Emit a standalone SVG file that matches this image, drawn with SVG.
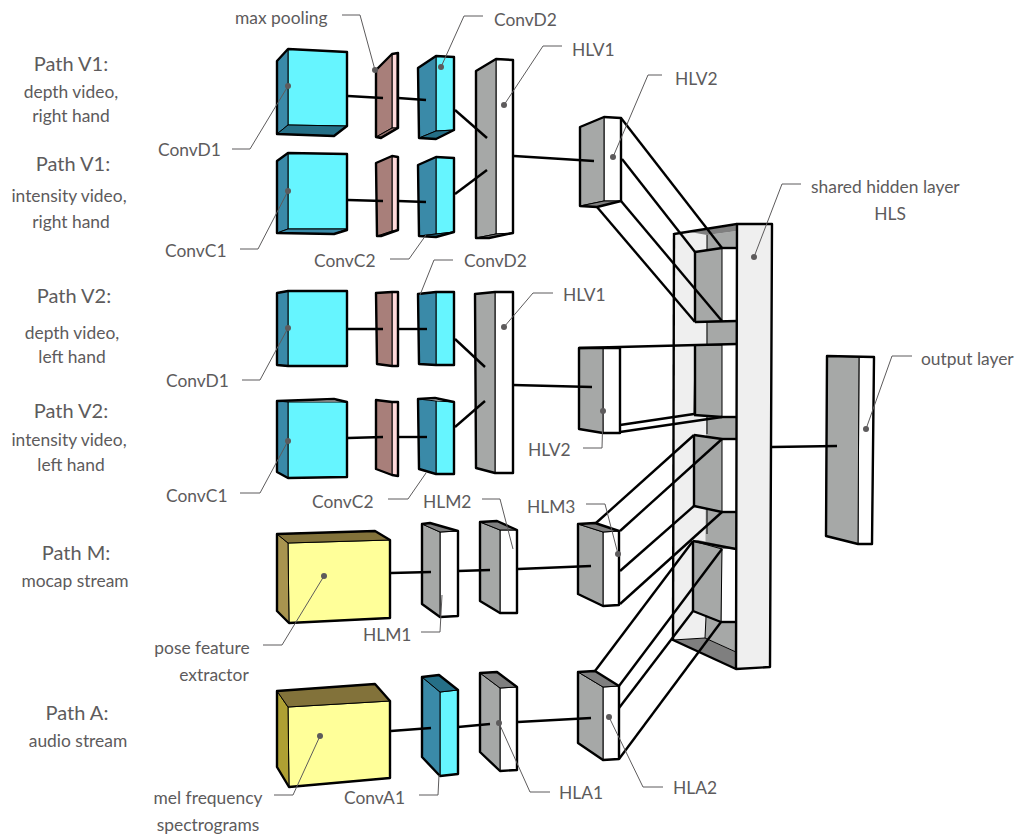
<svg xmlns="http://www.w3.org/2000/svg" width="1015" height="837" viewBox="0 0 1015 837">
<style>
text{font-family:"Lato","Noto Sans","Liberation Sans",sans-serif;font-size:17.4px;fill:#5d5b5c}
.h{font-size:20px}
.m{text-anchor:middle}
polygon{stroke:#000;stroke-width:1;stroke-linejoin:round}
.o{fill:none;stroke:#000;stroke-width:2.4;stroke-linejoin:round}
.c{fill:#66f5ff}.t{fill:#3a8aa8}.td{fill:#256f87}
.p{fill:#ffd9d9}.b{fill:#a87f7a}.bd{fill:#8a6a66}
.g{fill:#a6a8a7}.gd{fill:#7f7f7f}.w{fill:#fff}.l{fill:#efefef}
.y{fill:#ffff99}.k{fill:#82723a}
.n{stroke:none}
#connectors line,.cn line{stroke:#000;stroke-width:2.4;stroke-linecap:butt}
.cn line.f{stroke-width:1}
#leaders polyline{fill:none;stroke:#5d5b5c;stroke-width:1}
#leaders circle{fill:#5d5b5c;stroke:none}
</style>

<g id="v1-convd1"><polygon class="c" points="288,49 347,52 347,126 288,125"/><polygon class="t" points="277,61 288,49 288,125 277,134"/><polygon class="td" points="277,134 288,125 347,126 334,136"/><polygon class="o" points="277,61 288,49 347,52 347,126 334,136 277,134"/></g>
<g id="v1-pool1"><polygon class="p" points="392,54 397,53 397,128 392,128"/><polygon class="b" points="376,70 392,54 392,128 376,137"/><polygon class="bd" points="376,137 392,128 397,128 381,137"/><polygon class="o" points="376,70 392,54 398,53 398,128 381,138 376,137"/></g>
<g id="v1-convd2"><polygon class="c" points="436,56 454,57 454,130 436,131"/><polygon class="t" points="418,68 436,56 436,131 419,138"/><polygon class="td" points="419,138 436,131 454,130 436,139"/><polygon class="o" points="418,68 436,56 454,57 454,130 436,139 419,138"/></g>
<g id="v1-convc1"><polygon class="c" points="288,153 347,154 347,229 288,229"/><polygon class="t" points="277,161 288,153 288,229 277,233"/><polygon class="t" points="277,233 288,229 347,229 334,234"/><polygon class="o" points="277,161 288,153 347,154 347,230 334,234 277,233"/></g>
<g id="v1-pool2"><polygon class="p" points="392,156 398,157 398,230 392,231"/><polygon class="b" points="376,163 392,156 392,231 377,236"/><polygon class="o" points="376,163 392,156 398,157 398,230 381,236 377,236"/></g>
<g id="v1-convc2"><polygon class="c" points="436,157 454,158 454,232 436,234"/><polygon class="t" points="418,165 436,157 436,234 419,236"/><polygon class="td" points="419,236 436,234 454,232 436,237"/><polygon class="o" points="418,165 436,157 454,158 454,232 436,237 419,236"/></g>
<g id="v1-hlv1"><polygon class="w" points="496,59 513,60 513,233 496,234"/><polygon class="g" points="476,71 496,59 496,234 476,238"/><polygon class="gd" points="476,238 496,234 513,233 489,238"/><polygon class="o" points="476,71 496,59 513,60 513,233 489,238 476,238"/></g>

<g id="v2-convd1"><polygon class="c" points="288,291 347,291 347,366 288,366"/><polygon class="t" points="277,293 288,291 288,366 277,365"/><polygon class="o" points="277,293 288,291 347,291 347,366 288,366 277,365"/></g>
<g id="v2-pool1"><polygon class="p" points="392,292 398,292 398,366 392,366"/><polygon class="b" points="376,293 392,292 392,366 377,364"/><polygon class="o" points="376,293 392,292 398,292 398,366 392,366 377,364"/></g>
<g id="v2-convd2"><polygon class="c" points="436,292 454,292 454,365 436,365"/><polygon class="t" points="418,294 436,292 436,365 419,364"/><polygon class="o" points="418,294 436,292 454,292 454,365 436,365 419,364"/></g>
<g id="v2-convc1"><polygon class="c" points="288,402 347,402 347,477 288,478"/><polygon class="t" points="277,401 288,402 288,478 277,472"/><polygon class="o" points="277,401 334,399 347,402 347,477 288,478 277,472"/></g>
<g id="v2-pool2"><polygon class="p" points="392,402 398,402 398,476 392,475"/><polygon class="b" points="376,400 392,402 392,475 376,469"/><polygon class="o" points="376,400 392,402 398,402 398,476 392,475 376,469"/></g>
<g id="v2-convc2"><polygon class="c" points="436,401 454,402 454,474 436,474"/><polygon class="t" points="418,399 436,401 436,474 419,469"/><polygon class="o" points="418,399 435,398 454,402 454,474 436,474 419,469"/></g>
<g id="v2-hlv1"><polygon class="w" points="495,292 513,292 513,473 495,473"/><polygon class="g" points="475,294 495,292 495,473 476,468"/><polygon class="o" points="475,294 495,292 513,292 513,473 495,473 476,468"/></g>

<g id="m-pose"><polygon class="y" points="288,543 390,540 390,618 289,623"/><polygon fill="#a8944f" points="277,534 288,543 289,623 277,611"/><polygon class="k" points="277,534 375,531 390,540 288,543"/><polygon class="o" points="277,534 375,531 390,540 390,618 289,623 277,611"/></g>
<g id="m-hlm1"><polygon class="w" points="440,532 458,531 458,616 440,617"/><polygon class="g" points="422,524 440,532 440,617 422,604"/><polygon class="gd" points="422,524 430,523 458,531 440,532"/><polygon class="o" points="422,524 430,523 458,531 458,616 440,617 422,604"/></g>
<g id="m-hlm2"><polygon class="w" points="500,530 517,530 517,613 500,613"/><polygon class="g" points="480,522 500,530 500,613 480,601"/><polygon class="gd" points="480,522 497,521 517,530 500,530"/><polygon class="o" points="480,522 497,521 517,530 517,613 500,613 480,601"/></g>

<g id="a-mel"><polygon class="y" points="288,707 390,701 390,778 289,787"/><polygon fill="#aea033" points="277,691 288,707 289,787 277,767"/><polygon class="k" points="277,691 375,684 390,701 288,707"/><polygon class="o" points="277,691 375,684 390,701 390,778 289,787 277,767"/></g>
<g id="a-conva1"><polygon class="c" points="440,692 458,690 458,774 440,776"/><polygon class="t" points="422,677 440,692 440,776 422,757"/><polygon class="td" points="422,677 439,675 458,690 440,692"/><polygon class="o" points="422,677 439,675 458,690 458,774 440,776 422,757"/></g>
<g id="a-hla1"><polygon class="w" points="500,688 517,687 517,770 500,771"/><polygon class="g" points="480,673 500,688 500,771 480,752"/><polygon class="gd" points="480,673 497,672 517,687 500,688"/><polygon class="o" points="480,673 497,672 517,687 517,770 500,771 480,752"/></g>

<g id="hls">
<polygon class="l n" points="674,234 737,224 737,669 673,640"/>
<polygon class="g n" points="707,235 737,231 737,652 705,638"/>
<polygon class="gd n" points="674,234 737,225 737,231 707,235 690,232"/>
<polygon class="gd n" points="673,640 705,638 736,652 736,669"/>
<polygon class="l n" points="693,611 706,618 705,638 673,640"/>
<rect class="w n" x="722" y="248" width="15" height="73"/>
<rect class="w n" x="722" y="345" width="15" height="72"/>
<rect class="w n" x="722" y="439" width="15" height="73"/>
<rect class="w n" x="722" y="549" width="15" height="73"/>
<polygon class="gd n" points="693,541 698,540 736,548 722,549"/>
<polygon class="g" points="695,252 722,248 722,321 695,322"/>
<polygon class="g" points="695,345 722,345 722,417 694,415"/>
<polygon class="g" points="694,435 722,439 722,512 694,506"/>
<polygon class="g" points="693,541 722,549 721,622 693,611"/>
<g class="cn">
<line class="f" x1="707" y1="235" x2="707" y2="250"/><line class="f" x1="707" y1="322" x2="707" y2="344"/><line class="f" x1="707" y1="416" x2="707" y2="434"/><line class="f" x1="707" y1="509" x2="707" y2="534"/><line class="f" x1="706" y1="617" x2="705" y2="638"/><line class="f" x1="705" y1="638" x2="736" y2="652"/><line class="f" x1="673" y1="640" x2="705" y2="638"/>
<line x1="674" y1="234" x2="737" y2="224"/><line x1="674" y1="233" x2="673" y2="641"/>
<line x1="695" y1="252" x2="695" y2="322"/><line x1="695" y1="252" x2="722" y2="248"/><line x1="722" y1="248" x2="737" y2="248"/><line x1="695" y1="322" x2="737" y2="321"/>
<line x1="695" y1="345" x2="695" y2="415"/><line x1="694" y1="415" x2="722" y2="417"/><line x1="722" y1="417" x2="737" y2="417"/>
<line x1="694" y1="435" x2="694" y2="506"/><line x1="694" y1="435" x2="722" y2="439"/><line x1="722" y1="439" x2="737" y2="439"/><line x1="694" y1="506" x2="722" y2="512"/><line x1="722" y1="512" x2="737" y2="512"/>
<line x1="693" y1="541" x2="693" y2="611"/><line x1="693" y1="541" x2="736" y2="549"/><line x1="693" y1="611" x2="721" y2="622"/><line x1="721" y1="622" x2="737" y2="622"/>
<line x1="673" y1="640" x2="736" y2="669"/>
</g>
</g>

<g id="v1-hlv2"><polygon class="w" points="604,117 621,118 621,201 604,201"/><polygon class="g" points="580,127 604,117 604,201 580,206"/><polygon class="gd" points="580,206 604,201 621,201 597,207"/><polygon class="o" points="580,127 604,117 621,118 621,201 597,207 580,206"/></g>
<g id="v2-hlv2"><polygon class="w" points="603,348 620,348 620,433 603,433"/><polygon class="g" points="579,348 603,348 603,433 579,429"/><polygon class="o" points="579,348 620,348 620,433 603,433 579,429"/></g>
<g id="m-hlm3"><polygon class="w" points="603,532 619,531 619,605 603,606"/><polygon class="g" points="578,524 603,532 603,606 578,594"/><polygon class="gd" points="578,524 595,523 619,531 603,532"/><polygon class="o" points="578,524 595,523 619,531 619,605 603,606 578,594"/></g>
<g id="a-hla2"><polygon class="w" points="603,687 619,686 619,759 603,760"/><polygon class="g" points="578,672 603,687 603,760 578,743"/><polygon class="gd" points="578,672 595,671 619,686 603,687"/><polygon class="o" points="578,672 595,671 619,686 619,759 603,760 578,743"/></g>
<g id="output"><polygon class="w" points="859,357 874,357 872,544 858,544"/><polygon class="g" points="827,356 859,357 858,544 826,536"/><polygon class="o" points="827,356 874,357 872,544 858,544 826,536"/></g>

<g id="connectors">
<line x1="348" y1="96" x2="383" y2="98"/><line x1="398" y1="98" x2="426" y2="100"/><line x1="455" y1="110" x2="487" y2="138"/>
<line x1="348" y1="200" x2="383" y2="201"/><line x1="398" y1="201" x2="426" y2="202"/><line x1="455" y1="194" x2="487" y2="170"/>
<line x1="514" y1="156" x2="594" y2="161"/>
<line x1="348" y1="329" x2="383" y2="329"/><line x1="398" y1="329" x2="427" y2="329"/><line x1="455" y1="339" x2="485" y2="367"/>
<line x1="348" y1="438" x2="383" y2="437"/><line x1="398" y1="437" x2="427" y2="437"/><line x1="455" y1="427" x2="485" y2="401"/>
<line x1="513" y1="385" x2="592" y2="387"/>
<line x1="391" y1="573" x2="431" y2="572"/><line x1="458" y1="571" x2="490" y2="570"/><line x1="518" y1="569" x2="591" y2="566"/>
<line x1="391" y1="731" x2="431" y2="728"/><line x1="458" y1="727" x2="490" y2="724"/><line x1="518" y1="722" x2="591" y2="718"/>
<line x1="772" y1="447" x2="837" y2="446"/>
<line x1="621" y1="118" x2="722" y2="248"/><line x1="622" y1="159" x2="695" y2="252"/><line x1="621" y1="201" x2="722" y2="321"/><line x1="597" y1="207" x2="695" y2="322"/>
<line x1="579" y1="348" x2="737" y2="344"/><line x1="620" y1="425" x2="694" y2="414"/><line x1="620" y1="432" x2="722" y2="417"/>
<line x1="596" y1="523" x2="694" y2="435"/><line x1="620" y1="531" x2="722" y2="439"/><line x1="620" y1="571" x2="694" y2="506"/><line x1="620" y1="604" x2="722" y2="512"/>
<line x1="595" y1="671" x2="693" y2="541"/><line x1="619" y1="686" x2="722" y2="549"/><line x1="619" y1="708" x2="693" y2="611"/><line x1="619" y1="759" x2="721" y2="622"/>
</g>

<g id="hls-front"><polygon class="l n" points="737,224 772,224 770,667 736,669"/><polygon class="o" points="737,224 772,224 770,667 736,669"/></g>

<g id="leaders">
<polyline points="342,15 360,15 375,70"/><circle cx="375" cy="70" r="3"/>
<polyline points="483,16 464,16 441,67"/><circle cx="441" cy="67" r="3"/>
<polyline points="562,46 543,46 504,105"/><circle cx="504" cy="105" r="3"/>
<polyline points="232,149 250,149 288,86"/><circle cx="288" cy="86" r="3"/>
<polyline points="240,249 258,249 288,191"/><circle cx="288" cy="191" r="3"/>
<polyline points="390,259 409,259 426,235"/>
<polyline points="453,260 434,260 420,295"/>
<polyline points="553,293 533,293 504,327"/><circle cx="504" cy="327" r="3"/>
<polyline points="242,380 260,380 288,328"/><circle cx="288" cy="328" r="3"/>
<polyline points="240,493 260,493 288,441"/><circle cx="288" cy="441" r="3"/>
<polyline points="388,499 408,499 426,473"/>
<polyline points="583,448 602,448 603,411"/><circle cx="603" cy="411" r="3"/>
<polyline points="482,499 500,499 513,549"/>
<polyline points="586,504 605,504 618,554"/><circle cx="618" cy="554" r="3"/>
<polyline points="263,645 282,645 324,576"/><circle cx="324" cy="576" r="3"/>
<polyline points="421,632 440,632 442,595"/>
<polyline points="274,795 293,795 320,736"/><circle cx="320" cy="736" r="3"/>
<polyline points="419,795 438,795 439,775"/>
<polyline points="550,792 530,792 499,723"/><circle cx="499" cy="723" r="3"/>
<polyline points="663,787 643,787 609,717"/><circle cx="609" cy="717" r="3"/>
<polyline points="662,75 648,75 613,157"/><circle cx="613" cy="157" r="3"/>
<polyline points="801,184 782,184 754,257"/><circle cx="754" cy="257" r="3"/>
<polyline points="912,356 892,356 866,429"/><circle cx="866" cy="429" r="3"/>
</g>

<g id="labels">
<text class="h m" x="71" y="71">Path V1:</text>
<text class="m" x="71" y="98">depth video,</text>
<text class="m" x="71" y="122">right hand</text>
<text class="h m" x="73" y="171">Path V1:</text>
<text class="m" x="69" y="202">intensity video,</text>
<text class="m" x="71" y="228">right hand</text>
<text x="158" y="156">ConvD1</text>
<text x="165" y="257">ConvC1</text>
<text class="h m" x="74" y="303">Path V2:</text>
<text class="m" x="72" y="339">depth video,</text>
<text class="m" x="72" y="363">left hand</text>
<text class="h m" x="71" y="418">Path V2:</text>
<text class="m" x="69" y="446">intensity video,</text>
<text class="m" x="71" y="471">left hand</text>
<text x="166" y="387">ConvD1</text>
<text x="166" y="502">ConvC1</text>
<text class="h m" x="76" y="560">Path M:</text>
<text class="m" x="75" y="587">mocap stream</text>
<text class="h m" x="77" y="720">Path A:</text>
<text class="m" x="78" y="747">audio stream</text>
<text class="m" x="202" y="654">pose feature</text>
<text class="m" x="214" y="681">extractor</text>
<text class="m" x="208" y="804">mel frequency</text>
<text class="m" x="208" y="831">spectrograms</text>
<text x="235" y="24">max pooling</text>
<text x="494" y="26">ConvD2</text>
<text x="572" y="56">HLV1</text>
<text x="675" y="85">HLV2</text>
<text x="314" y="267">ConvC2</text>
<text x="464" y="267">ConvD2</text>
<text x="563" y="301">HLV1</text>
<text x="528" y="456">HLV2</text>
<text x="423" y="508">HLM2</text>
<text x="527" y="513">HLM3</text>
<text x="312" y="508">ConvC2</text>
<text x="363" y="641">HLM1</text>
<text x="344" y="804">ConvA1</text>
<text x="559" y="799">HLA1</text>
<text x="673" y="794">HLA2</text>
<text x="811" y="193">shared hidden layer</text>
<text class="m" x="890" y="220">HLS</text>
<text x="921" y="365">output layer</text>
</g>
</svg>
